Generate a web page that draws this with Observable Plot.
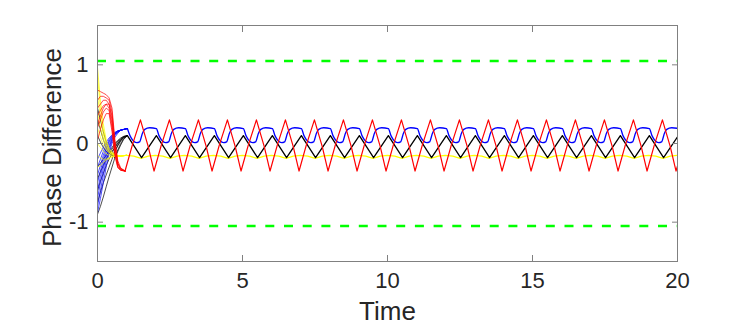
<!DOCTYPE html>
<html><head><meta charset="utf-8">
<script src="https://cdn.jsdelivr.net/npm/d3@7"></script>
<script src="https://cdn.jsdelivr.net/npm/@observablehq/plot@0.6"></script>
<style>body{margin:0;background:#fff}</style>
</head><body><div id="chart"></div>
<script>
const xTicks = [0, 5, 10, 15, 20];
const yTicks = [-1, 0, 1];
const boundValues = [1.0472, -1.0472];
const xLabel = "Time";
const yLabel = "Phase Difference";

// periods of the steady oscillation (start times)
const cycleStarts = [1,2,3,4,5,6,7,8,9,10,11,12,13,14,15,16,17,18,19,20];

// steady shapes within one period
const redFrac = [-0.05, 0.2, 0.48, 0.75];
const redVal  = [-0.35, -0.02, 0.30, -0.04];
const blueFrac = [0.03, 0.12, 0.22, 0.35, 0.45, 0.55, 0.63, 0.8];
const blueVal  = [0.19, 0.10, 0.04, 0.01, 0.02, 0.13, 0.18, 0.20];
const blackFrac = [0.03, 0.52];
const blackVal  = [0.10, -0.18];
const yellowFrac = [0, 0.25, 0.5, 0.75];
const yellowVal  = [-0.15, -0.16, -0.19, -0.16];

// initial transients
const redTimes = [0, 0.1, 0.2, 0.3, 0.4, 0.5, 0.6, 0.7, 0.8, 0.95];
const redLines = [
  [0.68, 0.66, 0.64, 0.62, 0.58, 0.45, 0.05, -0.22, -0.31, -0.35],
  [0.55, 0.60, 0.60, 0.58, 0.55, 0.40, 0.00, -0.25, -0.32, -0.35],
  [0.45, 0.50, 0.55, 0.55, 0.50, 0.30, -0.06, -0.27, -0.33, -0.35],
  [0.35, 0.42, 0.48, 0.50, 0.45, 0.25, -0.10, -0.29, -0.34, -0.35],
  [0.20, 0.30, 0.40, 0.45, 0.42, 0.20, -0.13, -0.30, -0.34, -0.35],
  [0.05, 0.18, 0.30, 0.38, 0.38, 0.15, -0.16, -0.31, -0.34, -0.35],
  [0.25, 0.35, 0.45, 0.50, 0.50, 0.35, -0.02, -0.25, -0.32, -0.35]
];
const blueTimes = [0, 0.1, 0.2, 0.3, 0.4, 0.5, 0.6, 0.7, 0.8, 1.03];
const blueLines = [
  [-0.88, -0.70, -0.50, -0.30, -0.12, 0.00, 0.08, 0.13, 0.17, 0.19],
  [-0.80, -0.60, -0.40, -0.22, -0.08, 0.03, 0.10, 0.14, 0.17, 0.19],
  [-0.70, -0.50, -0.32, -0.17, -0.05, 0.05, 0.11, 0.15, 0.17, 0.19],
  [-0.60, -0.42, -0.26, -0.12, -0.02, 0.06, 0.12, 0.15, 0.17, 0.19],
  [-0.50, -0.35, -0.20, -0.08, 0.01, 0.08, 0.12, 0.15, 0.17, 0.19],
  [-0.40, -0.28, -0.15, -0.05, 0.03, 0.09, 0.13, 0.16, 0.17, 0.19],
  [-0.30, -0.20, -0.10, -0.02, 0.05, 0.10, 0.14, 0.16, 0.17, 0.19],
  [-0.20, -0.12, -0.05, 0.02, 0.07, 0.11, 0.14, 0.16, 0.17, 0.19]
];
const blackTimes = [0, 0.1, 0.2, 0.3, 0.4, 0.5, 0.6, 0.7, 0.8, 0.9, 1.03];
const blackLines = [
  [-0.90, -0.80, -0.68, -0.55, -0.42, -0.30, -0.18, -0.08, 0.00, 0.06, 0.10],
  [-0.75, -0.62, -0.50, -0.40, -0.30, -0.20, -0.10, -0.02, 0.04, 0.08, 0.10],
  [-0.60, -0.48, -0.38, -0.28, -0.20, -0.12, -0.05, 0.01, 0.05, 0.08, 0.10],
  [-0.45, -0.36, -0.28, -0.20, -0.13, -0.07, -0.02, 0.03, 0.06, 0.09, 0.10],
  [-0.30, -0.25, -0.20, -0.15, -0.10, -0.05, 0.00, 0.04, 0.07, 0.09, 0.10],
  [0.10, 0.02, -0.05, -0.10, -0.12, -0.10, -0.05, 0.00, 0.05, 0.08, 0.10],
  [0.30, 0.18, 0.05, -0.05, -0.12, -0.15, -0.10, -0.03, 0.03, 0.07, 0.10],
  [0.45, 0.30, 0.15, 0.02, -0.08, -0.15, -0.18, -0.10, -0.02, 0.05, 0.10]
];
const yellowTimes = [0, 0.1, 0.2, 0.3, 0.4, 0.5, 0.6, 0.7, 0.8, 1.0];
const yellowLines = [
  [0.97, 0.55, 0.25, 0.05, -0.06, -0.11, -0.14, -0.15, -0.16, -0.15],
  [0.85, 0.45, 0.18, 0.02, -0.08, -0.12, -0.14, -0.15, -0.16, -0.15],
  [0.60, 0.35, 0.12, -0.02, -0.10, -0.13, -0.15, -0.16, -0.16, -0.15],
  [0.40, 0.20, 0.05, -0.05, -0.11, -0.14, -0.15, -0.16, -0.16, -0.15],
  [0.20, 0.08, -0.02, -0.08, -0.12, -0.14, -0.15, -0.16, -0.16, -0.15],
  [0.00, -0.05, -0.10, -0.13, -0.15, -0.16, -0.16, -0.16, -0.16, -0.15],
  [-0.15, -0.18, -0.20, -0.20, -0.18, -0.17, -0.16, -0.16, -0.16, -0.15],
  [-0.30, -0.28, -0.24, -0.21, -0.19, -0.17, -0.16, -0.16, -0.16, -0.15]
];

function transientRows(times, lines, name) {
  const rows = [];
  lines.forEach((vals, i) => vals.forEach((v, j) => rows.push({t: times[j], v, s: name + i})));
  return rows;
}
function steadyRows(fracs, vals) {
  const rows = [];
  cycleStarts.forEach(k => fracs.forEach((f, j) => rows.push({t: k + f, v: vals[j]})));
  return rows;
}

const axisColor = "#808080";
const thin = 0.7, thick = 1.3;
const fmt = d => String(d);

const chart = Plot.plot({
  width: 747, height: 330,
  marginLeft: 97, marginRight: 70, marginTop: 25, marginBottom: 69,
  style: {fontFamily: "'Liberation Sans', Arial, sans-serif", color: "#262626", background: "#fff"},
  x: {domain: [0, 20]},
  y: {domain: [-1.5, 1.5]},
  marks: [
    Plot.line(transientRows(blackTimes, blackLines, "k"), {x: "t", y: "v", z: "s", stroke: "#000", strokeWidth: thin, clip: true}),
    Plot.line(transientRows(blueTimes, blueLines, "b"), {x: "t", y: "v", z: "s", stroke: "#0000ff", strokeWidth: thin, clip: true}),
    Plot.line(transientRows(yellowTimes, yellowLines, "y"), {x: "t", y: "v", z: "s", stroke: "#ffff00", strokeWidth: thin, clip: true}),
    Plot.line(transientRows(redTimes, redLines, "r"), {x: "t", y: "v", z: "s", stroke: "#ff0000", strokeWidth: thin, clip: true}),
    Plot.line(steadyRows(yellowFrac, yellowVal), {x: "t", y: "v", stroke: "#ffff00", strokeWidth: thick, clip: true}),
    Plot.line(steadyRows(blackFrac, blackVal), {x: "t", y: "v", stroke: "#000", strokeWidth: thick, clip: true}),
    Plot.line(steadyRows(blueFrac, blueVal), {x: "t", y: "v", stroke: "#0000ff", strokeWidth: thick, curve: "monotone-x", clip: true}),
    Plot.line(steadyRows(redFrac, redVal), {x: "t", y: "v", stroke: "#ff0000", strokeWidth: 1.2, clip: true}),
    Plot.ruleY(boundValues, {stroke: "#00ff00", strokeWidth: 2.5, strokeDasharray: "9,9.7"}),
    Plot.frame({stroke: axisColor}),
    Plot.axisX({ticks: xTicks, tickSize: -6, stroke: axisColor, text: null, label: null}),
    Plot.axisX({ticks: xTicks, anchor: "top", tickSize: -6, stroke: axisColor, text: null, label: null}),
    Plot.axisY({ticks: yTicks, tickSize: -6, stroke: axisColor, text: null, label: null}),
    Plot.axisY({ticks: yTicks, anchor: "right", tickSize: -6, stroke: axisColor, text: null, label: null}),
    Plot.axisX({ticks: xTicks, tickFormat: fmt, tickSize: 0, tickPadding: 11, fontSize: 22, label: null, fill: "#262626"}),
    Plot.axisY({ticks: yTicks, tickFormat: fmt, tickSize: 0, tickPadding: 9, fontSize: 22, label: null, fill: "#262626"}),
    Plot.text([xLabel], {frameAnchor: "bottom", dy: 58, fontSize: 26, fill: "#262626"}),
    Plot.text([yLabel], {frameAnchor: "left", dx: -45, dy: 4, rotate: -90, textAnchor: "middle", fontSize: 26, fill: "#262626"})
  ]
});
document.getElementById("chart").appendChild(chart);
</script>
</body></html>
